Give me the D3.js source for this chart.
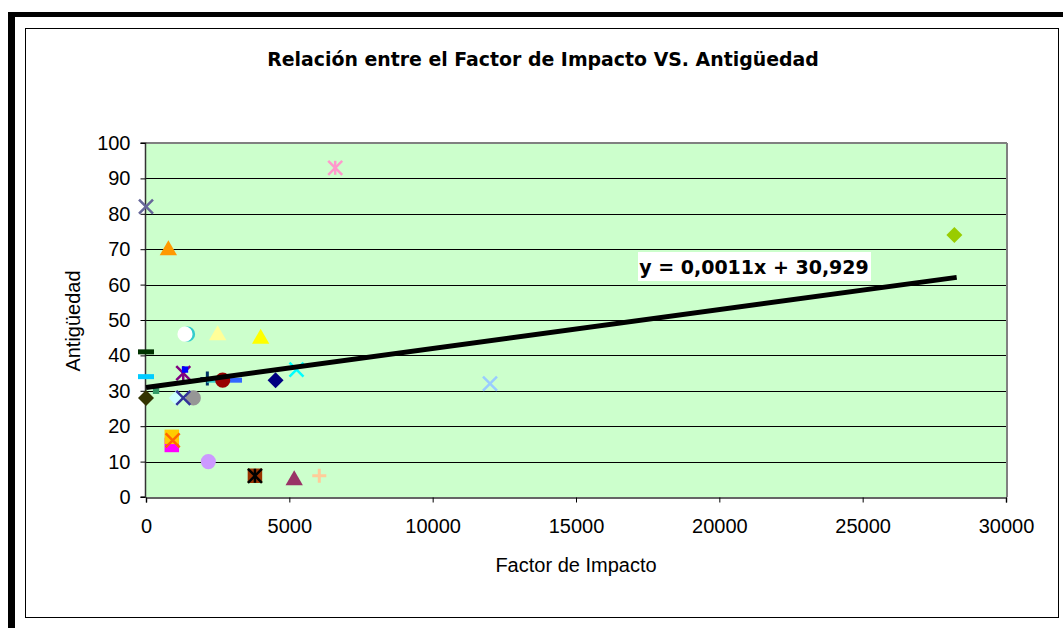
<!DOCTYPE html>
<html>
<head>
<meta charset="utf-8">
<script src="https://cdnjs.cloudflare.com/ajax/libs/d3/7.8.5/d3.min.js"></script>
<style>
  body { margin: 0; background: #fff; }
  svg { display: block; }
</style>
</head>
<body>
<div id="chart"></div>
<script>
// values
var factorImpacto = [0, 780, 6600, 1450, 1360, 2500, 4000, 0, 0, 1300, 1360, 2140, 2400, 3070, 2675, 4520, 5250,
    0, 350, 1070, 1650, 1300, 900, 900, 930, 2175, 3800, 3800, 5170, 6045, 12000, 28200];
var antiguedad = [82, 70, 93, 46, 46, 46, 45, 41, 34, 35, 36, 33.5, 33, 33, 33, 33, 36,
    28, 30, 28, 28, 28, 14.7, 17, 16, 10, 6, 6, 5, 6, 32, 74];
var markerShape = ["x", "triangle", "star", "circle", "circle", "triangle", "triangle", "dash", "dash", "star", "smallsquare", "plus", "dash", "dash", "circle", "diamond", "x",
    "diamond", "smallsquare", "diamond", "circle", "x", "square", "square", "x", "circle", "square", "star", "triangle", "plus", "x", "diamond"];
var markerColor = ["#666699", "#FF9900", "#FF99CC", "#33CCCC", "#FFFFFF", "#FFFF99", "#FFFF00", "#003300", "#00CCFF", "#800080", "#0000FF", "#003366", "#33CCCC", "#3366FF", "#990000", "#000080", "#00FFFF",
    "#333300", "#339966", "#CCFFFF", "#969696", "#333399", "#FF00FF", "#FFCC00", "#FF6600", "#CC99FF", "#993300", "#000000", "#993366", "#FFCC99", "#99CCFF", "#99CC00"];

var xTicks = [0, 5000, 10000, 15000, 20000, 25000, 30000];
var yTicks = [0, 10, 20, 30, 40, 50, 60, 70, 80, 90, 100];
var slope = 0.0011, intercept = 30.929;
var titleText = "Relación entre el Factor de Impacto VS. Antigüedad";
var eqText = "y = 0,0011x + 30,929";

var width = 1063, height = 628;
var svg = d3.select("#chart").append("svg")
    .attr("width", width)
    .attr("height", height);

// outer frame
svg.append("rect").attr("x", 8).attr("y", 12).attr("width", width - 8).attr("height", 5).attr("fill", "#000");
svg.append("rect").attr("x", 8).attr("y", 12).attr("width", 7).attr("height", height - 12).attr("fill", "#000");
svg.append("rect").attr("x", 25.5).attr("y", 28.5).attr("width", 1033).attr("height", 589)
    .attr("fill", "#fff").attr("stroke", "#000").attr("stroke-width", 1);

var plotLeft = 146, plotRight = 1006, plotTop = 143, plotBottom = 497;

var x = d3.scaleLinear().domain([0, 30000]).range([plotLeft, plotRight]);
var y = d3.scaleLinear().domain([0, 100]).range([plotBottom, plotTop]);

// plot area
svg.append("rect").attr("x", plotLeft).attr("y", plotTop)
    .attr("width", plotRight - plotLeft).attr("height", plotBottom - plotTop)
    .attr("fill", "#CCFFCC");

svg.append("g").selectAll("line")
    .data(yTicks.filter(function (d) { return d > 0 && d < 100; }))
    .enter().append("line")
    .attr("x1", plotLeft).attr("x2", plotRight)
    .attr("y1", function (d) { return Math.round(y(d)) + 0.5; })
    .attr("y2", function (d) { return Math.round(y(d)) + 0.5; })
    .attr("stroke", "#000").attr("stroke-width", 1);

// gray border top / right
svg.append("line").attr("x1", plotLeft).attr("x2", plotRight + 1).attr("y1", plotTop).attr("y2", plotTop)
    .attr("stroke", "#808080").attr("stroke-width", 2);
svg.append("line").attr("x1", plotRight + 1).attr("x2", plotRight + 1).attr("y1", plotTop).attr("y2", plotBottom)
    .attr("stroke", "#808080").attr("stroke-width", 2);

// axes
var xAxis = d3.axisBottom(x).tickValues(xTicks).tickSize(5).tickPadding(16).tickFormat(d3.format("d"));
var yAxis = d3.axisLeft(y).tickValues(yTicks).tickSize(5).tickPadding(10).tickFormat(d3.format("d"));

var gx = svg.append("g").attr("transform", "translate(0," + (plotBottom + 0.5) + ")").call(xAxis);
var gy = svg.append("g").attr("transform", "translate(" + (plotLeft - 0.5) + ",0)").call(yAxis);
[gx, gy].forEach(function (g) {
    g.select(".domain").attr("stroke", "#333").attr("stroke-width", 1.5);
    g.selectAll(".tick line").attr("stroke", "#000");
    g.selectAll("text").attr("fill", "#000")
        .style("font-family", "'Liberation Sans', Arial, sans-serif").style("font-size", "20px");
});
gy.select(".domain").attr("d", "M-5," + plotTop + "H0V" + plotBottom + "H-5");

// titles
svg.append("text").attr("x", 543).attr("y", 66).attr("text-anchor", "middle")
    .style("font-family", "'DejaVu Sans', Verdana, sans-serif").style("font-weight", "bold").style("font-size", "18.9px")
    .text(titleText);
svg.append("text").attr("x", 576).attr("y", 572).attr("text-anchor", "middle")
    .style("font-family", "'Liberation Sans', Arial, sans-serif").style("font-size", "20px")
    .text("Factor de Impacto");
svg.append("text").attr("transform", "translate(80,321) rotate(-90)").attr("text-anchor", "middle")
    .style("font-family", "'Liberation Sans', Arial, sans-serif").style("font-size", "20px")
    .text("Antigüedad");

// markers
var sym = {
    triangle: d3.symbol().type(d3.symbolTriangle).size(130),
    circle: d3.symbol().type(d3.symbolCircle).size(180),
    square: d3.symbol().type(d3.symbolSquare).size(210),
    smallsquare: d3.symbol().type(d3.symbolSquare).size(40)
};

var pts = factorImpacto.map(function (v, i) {
    return { fx: v, ay: antiguedad[i], shape: markerShape[i], color: markerColor[i] };
});

var mk = svg.append("g").selectAll("g").data(pts).enter().append("g")
    .attr("transform", function (d) { return "translate(" + x(d.fx) + "," + y(d.ay) + ")"; });

mk.each(function (d) {
    var g = d3.select(this);
    var s = 7;
    if (sym[d.shape]) {
        var p = g.append("path").attr("d", sym[d.shape]()).attr("fill", d.color);
        if (d.shape === "triangle") p.attr("transform", "translate(0,1)");
    } else if (d.shape === "diamond") {
        g.append("path").attr("d", "M0,-8L8,0L0,8L-8,0Z").attr("fill", d.color);
    } else if (d.shape === "dash") {
        g.append("rect").attr("x", -8).attr("y", -2.5).attr("width", 16).attr("height", 5).attr("fill", d.color);
    } else if (d.shape === "x" || d.shape === "star") {
        g.append("path").attr("d", "M" + (-s) + "," + (-s) + "L" + s + "," + s + "M" + (-s) + "," + s + "L" + s + "," + (-s))
            .attr("stroke", d.color).attr("stroke-width", 2.5).attr("fill", "none");
        if (d.shape === "star")
            g.append("path").attr("d", "M0," + (-s) + "V" + s).attr("stroke", d.color).attr("stroke-width", 2.5);
    } else if (d.shape === "plus") {
        g.append("path").attr("d", "M" + (-s) + ",0H" + s + "M0," + (-s) + "V" + s)
            .attr("stroke", d.color).attr("stroke-width", 3).attr("fill", "none");
    }
});

// trend line
var xMin = d3.min(factorImpacto), xMax = d3.max(factorImpacto) + 80;
svg.append("line")
    .attr("x1", x(xMin)).attr("y1", y(slope * xMin + intercept))
    .attr("x2", x(xMax)).attr("y2", y(slope * xMax + intercept))
    .attr("stroke", "#000").attr("stroke-width", 5);

// equation label
var eq = svg.append("g");
eq.append("rect").attr("x", 638).attr("y", 252).attr("width", 233).attr("height", 29).attr("fill", "#fff");
eq.append("text").attr("x", 754).attr("y", 273.5).attr("text-anchor", "middle")
    .style("font-family", "'DejaVu Sans', Verdana, sans-serif").style("font-weight", "bold").style("font-size", "19px")
    .text(eqText);
</script>
</body>
</html>
